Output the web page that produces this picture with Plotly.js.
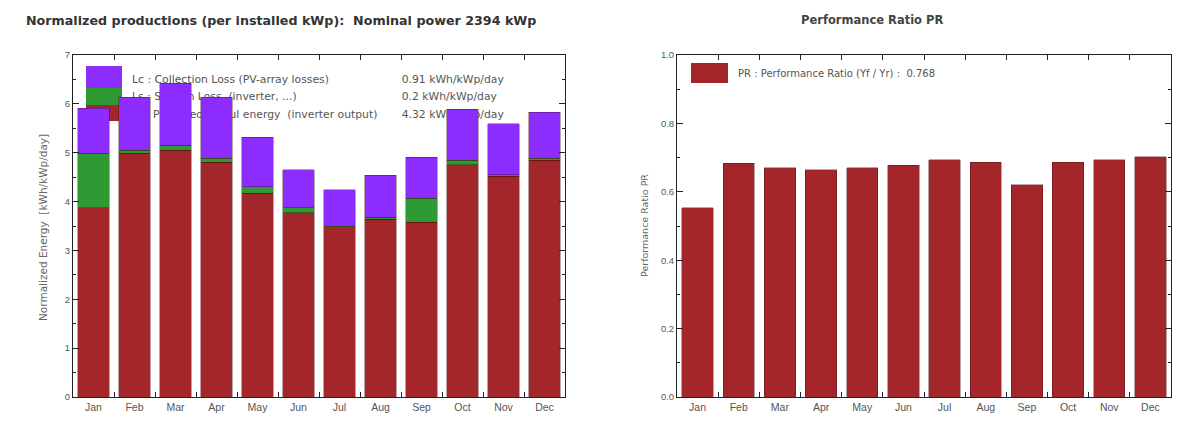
<!DOCTYPE html>
<html>
<head>
<meta charset="utf-8">
<script src="https://cdn.plot.ly/plotly-3.0.1.min.js"></script>
<style>
  html, body { margin: 0; padding: 0; background: #ffffff; }
  #chart { width: 1179px; height: 421px; }
</style>
</head>
<body>
<div id="chart"></div>
<script>
// Monthly normalized productions and performance ratio
const months = ['Jan', 'Feb', 'Mar', 'Apr', 'May', 'Jun', 'Jul', 'Aug', 'Sep', 'Oct', 'Nov', 'Dec'];

// kWh/kWp/day
const yfValues = [3.87, 4.99, 5.05, 4.81, 4.17, 3.77, 3.46, 3.64, 3.58, 4.75, 4.52, 4.85]; // produced useful energy
const lsValues = [1.12, 0.06, 0.10, 0.08, 0.13, 0.10, 0.04, 0.04, 0.49, 0.10, 0.03, 0.04]; // system loss
const lcValues = [0.92, 1.09, 1.27, 1.25, 1.02, 0.78, 0.74, 0.86, 0.84, 1.04, 1.04, 0.94]; // collection loss

// Performance ratio Yf / Yr
const prValues = [0.553, 0.684, 0.670, 0.664, 0.670, 0.678, 0.693, 0.687, 0.620, 0.687, 0.693, 0.702];

const lossLabels = [
  'Lc : Collection Loss (PV-array losses)',
  'Ls : System Loss  (inverter, ...)',
  'Yf : Produced useful energy  (inverter output)'
];
const lossValues = ['0.91 kWh/kWp/day', '0.2 kWh/kWp/day', '4.32 kWh/kWp/day'];
const prLabel = 'PR : Performance Ratio (Yf / Yr) :  0.768';

const leftTitle = 'Normalized productions (per installed kWp):  Nominal power 2394 kWp';
const rightTitle = 'Performance Ratio PR';
const leftYTitle = 'Normalized Energy  [kWh/kWp/day]';
const rightYTitle = 'Performance Ratio PR';

const RED = '#a3272a';
const GREEN = '#2f9a33';
const PURPLE = '#8c2cff';
const EDGE = 'rgba(60,10,10,0.6)';

// page geometry in pixels
const W = 1179, H = 421;
const px = v => v / W;
const py = v => (H - v) / H;
const leftDom = [px(73), px(565)];
const rightDom = [px(677), px(1171)];
const yDom = [py(397), py(55)];

const font = 'Liberation Sans, Arial, sans-serif';
const textFont = 'DejaVu Sans, Verdana, sans-serif';

const catAxis = (extra) => Object.assign({
  type: 'category',
  categoryorder: 'array',
  categoryarray: months,
  tickson: 'boundaries',
  ticks: 'inside',
  ticklen: 5,
  tickcolor: '#222',
  showline: true,
  linecolor: '#222',
  linewidth: 1,
  mirror: 'allticks',
  showgrid: false,
  zeroline: false,
  fixedrange: true,
  tickfont: { family: font, size: 10.5, color: '#555' }
}, extra);

const valAxis = (extra) => Object.assign({
  ticks: 'inside',
  ticklen: 6,
  tickcolor: '#222',
  showline: true,
  linecolor: '#222',
  linewidth: 1,
  mirror: 'allticks',
  showgrid: false,
  zeroline: false,
  fixedrange: true,
  tickfont: { family: font, size: 9.5, color: '#555' }
}, extra);

const bar = (name, y, color, xa, ya) => ({
  type: 'bar',
  name: name,
  x: months,
  y: y,
  xaxis: xa,
  yaxis: ya,
  width: 0.76,
  marker: { color: color, line: { color: EDGE, width: 0.6 } },
  hoverinfo: 'x+y',
  showlegend: false
});

const traces = [
  // loss key text, sitting beneath the bars
  {
    type: 'scatter',
    mode: 'text',
    x: [0.12, 0.12, 0.12, 0.668, 0.668, 0.668],
    y: [0.927, 0.877, 0.825, 0.927, 0.877, 0.825],
    text: lossLabels.concat(lossValues),
    textposition: 'middle right',
    textfont: { family: textFont, size: 10.8, color: '#555' },
    xaxis: 'x', yaxis: 'y',
    hoverinfo: 'skip',
    showlegend: false
  },
  bar('Yf', yfValues, RED, 'x3', 'y3'),
  bar('Ls', lsValues, GREEN, 'x3', 'y3'),
  bar('Lc', lcValues, PURPLE, 'x3', 'y3'),
  bar('PR', prValues, RED, 'x2', 'y2')
];

const swatch = (x0, x1, y0, y1, color) => ({
  type: 'rect', xref: 'paper', yref: 'paper', layer: 'below',
  x0: px(x0), x1: px(x1), y0: py(y1), y1: py(y0),
  fillcolor: color, line: { width: 0 }
});

const layout = {
  width: W,
  height: H,
  margin: { l: 0, r: 0, t: 0, b: 0 },
  paper_bgcolor: '#ffffff',
  plot_bgcolor: 'rgba(0,0,0,0)',
  barmode: 'stack',
  bargap: 0.24,
  showlegend: false,
  // hidden base axes hosting the key text of the left panel
  xaxis: { domain: leftDom, range: [0, 1], visible: false, fixedrange: true, anchor: 'y' },
  yaxis: { domain: yDom, range: [0, 1], visible: false, fixedrange: true, anchor: 'x' },
  // left panel: normalized energy
  xaxis3: catAxis({ overlaying: 'x', anchor: 'y3' }),
  yaxis3: valAxis({
    overlaying: 'y', anchor: 'x3', range: [0, 7], dtick: 1,
    minor: { dtick: 0.5, ticks: 'inside', ticklen: 3, tickcolor: '#222' }
  }),
  // right panel: performance ratio
  xaxis2: catAxis({ domain: rightDom, anchor: 'y2' }),
  yaxis2: valAxis({
    domain: yDom, anchor: 'x2', range: [0, 1], dtick: 0.2, tickformat: '.1f',
    minor: { dtick: 0.1, ticks: 'inside', ticklen: 3, tickcolor: '#222' }
  }),
  shapes: [
    swatch(86, 122, 66, 88, PURPLE),
    swatch(86, 122, 88, 105, GREEN),
    swatch(86, 122, 105, 121, RED),
    swatch(691, 728, 63, 83, RED)
  ],
  annotations: [
    {
      xref: 'paper', yref: 'paper', x: px(24), y: py(20),
      xanchor: 'left', yanchor: 'middle', showarrow: false,
      text: '<b>' + leftTitle + '</b>',
      font: { family: textFont, size: 12.7, color: '#333' }
    },
    {
      xref: 'paper', yref: 'paper', x: px(872), y: py(20),
      xanchor: 'center', yanchor: 'middle', showarrow: false,
      text: '<b>' + rightTitle + '</b>',
      font: { family: textFont, size: 11.5, color: '#444' }
    },
    {
      xref: 'paper', yref: 'paper', x: px(43), y: py(228),
      xanchor: 'center', yanchor: 'middle', showarrow: false, textangle: -90,
      text: leftYTitle,
      font: { family: textFont, size: 10.5, color: '#666' }
    },
    {
      xref: 'paper', yref: 'paper', x: px(644), y: py(226),
      xanchor: 'center', yanchor: 'middle', showarrow: false, textangle: -90,
      text: rightYTitle,
      font: { family: textFont, size: 9.5, color: '#666' }
    },
    {
      xref: 'paper', yref: 'paper', x: px(736), y: py(73),
      xanchor: 'left', yanchor: 'middle', showarrow: false,
      text: prLabel,
      font: { family: textFont, size: 10, color: '#555' }
    }
  ]
};

Plotly.newPlot('chart', traces, layout, { displayModeBar: false, staticPlot: true });
</script>
</body>
</html>
